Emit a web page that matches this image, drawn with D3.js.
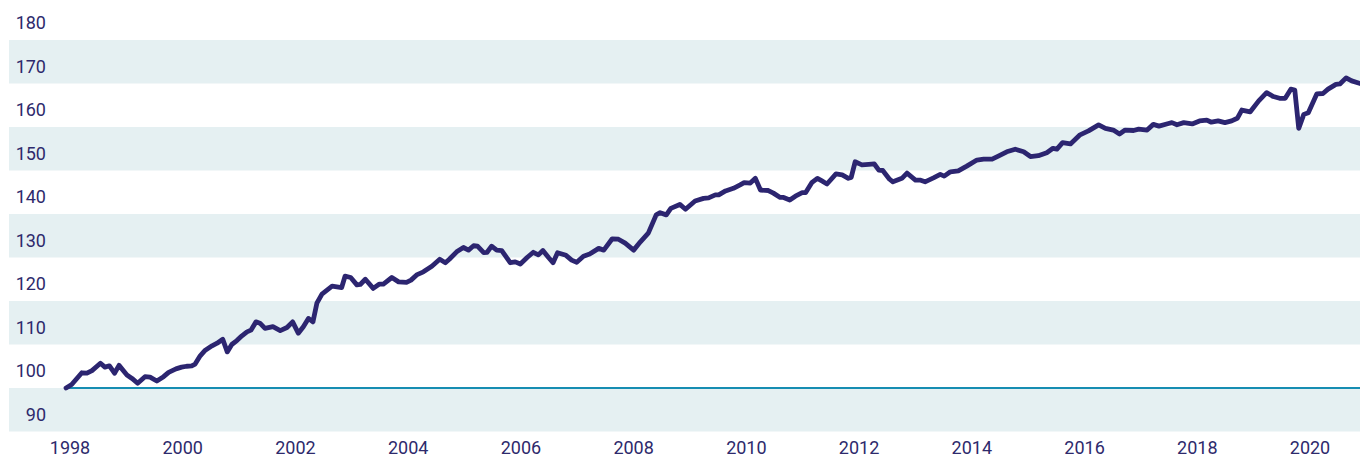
<!DOCTYPE html>
<html>
<head>
<meta charset="utf-8">
<script src="https://cdn.jsdelivr.net/npm/d3@7"></script>
<style>
  html, body { margin: 0; padding: 0; background: #fff; }
  svg text { font-family: Roboto, "Noto Sans", sans-serif; font-size: 18px; fill: #2e2a6c; }
</style>
</head>
<body>
<div id="chart"></div>
<script>
/******************************************************************************/
/*  Data                                                                      */
/******************************************************************************/

// decimal year, index value (1998 = 100)
var years = [
  1997.93, 1998.03, 1998.21, 1998.30, 1998.39, 1998.54, 1998.62, 1998.70, 1998.79, 1998.87,
  1999.01, 1999.10, 1999.20, 1999.33, 1999.42, 1999.54, 1999.66, 1999.75, 1999.88, 1999.98,
  2000.07, 2000.16, 2000.22, 2000.31, 2000.40, 2000.52, 2000.61, 2000.71, 2000.79, 2000.87,
  2000.96, 2001.05, 2001.14, 2001.21, 2001.30, 2001.37, 2001.46, 2001.60, 2001.73, 2001.85,
  2001.95, 2002.05, 2002.14, 2002.23, 2002.31, 2002.38, 2002.47, 2002.65, 2002.82, 2002.88,
  2002.98, 2003.09, 2003.15, 2003.24, 2003.38, 2003.49, 2003.56, 2003.71, 2003.83, 2003.97,
  2004.05, 2004.15, 2004.27, 2004.42, 2004.56, 2004.66, 2004.73, 2004.86, 2004.98, 2005.07,
  2005.16, 2005.23, 2005.34, 2005.40, 2005.48, 2005.57, 2005.66, 2005.81, 2005.90, 2005.99,
  2006.11, 2006.22, 2006.31, 2006.39, 2006.49, 2006.57, 2006.65, 2006.80, 2006.90, 2006.99,
  2007.11, 2007.22, 2007.38, 2007.47, 2007.62, 2007.73, 2007.85, 2008.00, 2008.12, 2008.26,
  2008.40, 2008.47, 2008.58, 2008.66, 2008.82, 2008.92, 2009.09, 2009.24, 2009.33, 2009.45,
  2009.51, 2009.63, 2009.77, 2009.89, 2009.96, 2010.07, 2010.16, 2010.25, 2010.39, 2010.48,
  2010.60, 2010.66, 2010.77, 2010.87, 2010.99, 2011.05, 2011.16, 2011.26, 2011.34, 2011.43,
  2011.59, 2011.70, 2011.81, 2011.86, 2011.93, 2012.05, 2012.17, 2012.27, 2012.35, 2012.42,
  2012.54, 2012.60, 2012.76, 2012.85, 2013.00, 2013.08, 2013.17, 2013.32, 2013.44, 2013.51,
  2013.62, 2013.76, 2013.91, 2014.09, 2014.21, 2014.36, 2014.47, 2014.62, 2014.77, 2014.92,
  2015.04, 2015.18, 2015.33, 2015.44, 2015.51, 2015.61, 2015.75, 2015.92, 2016.07, 2016.25,
  2016.37, 2016.51, 2016.62, 2016.72, 2016.87, 2016.96, 2017.11, 2017.22, 2017.32, 2017.49,
  2017.55, 2017.64, 2017.76, 2017.91, 2018.04, 2018.17, 2018.25, 2018.37, 2018.49, 2018.61,
  2018.71, 2018.79, 2018.94, 2019.09, 2019.23, 2019.35, 2019.46, 2019.56, 2019.66, 2019.73,
  2019.80, 2019.89, 2019.97, 2020.12, 2020.23, 2020.32, 2020.46, 2020.53, 2020.64, 2020.74,
  2020.89
];

var values = [
  100.0, 100.8, 103.5, 103.4, 104.0, 105.7, 104.8, 105.1, 103.4, 105.2,
  103.0, 102.2, 101.1, 102.6, 102.5, 101.6, 102.6, 103.6, 104.4, 104.8,
  105.0, 105.1, 105.5, 107.4, 108.7, 109.7, 110.3, 111.2, 108.3, 110.0,
  110.9, 112.0, 112.9, 113.3, 115.2, 114.9, 113.7, 114.1, 113.2, 113.9,
  115.2, 112.6, 114.1, 116.0, 115.2, 119.5, 121.6, 123.4, 123.1, 125.7,
  125.4, 123.7, 123.8, 125.0, 122.9, 123.9, 123.9, 125.4, 124.4, 124.3,
  124.8, 126.0, 126.7, 128.0, 129.6, 128.8, 129.6, 131.3, 132.3, 131.7,
  132.7, 132.6, 131.1, 131.2, 132.6, 131.7, 131.6, 128.8, 129.0, 128.5,
  130.0, 131.2, 130.6, 131.6, 130.0, 128.8, 131.1, 130.5, 129.4, 128.9,
  130.3, 130.8, 132.1, 131.7, 134.3, 134.2, 133.3, 131.7, 133.6, 135.6,
  139.8, 140.3, 139.8, 141.3, 142.2, 141.1, 143.0, 143.6, 143.7, 144.4,
  144.4, 145.3, 145.9, 146.7, 147.2, 147.1, 148.2, 145.5, 145.4, 144.8,
  143.8, 143.8, 143.2, 144.1, 144.9, 144.9, 147.2, 148.2, 147.6, 146.9,
  149.2, 149.0, 148.2, 148.4, 152.0, 151.3, 151.4, 151.5, 150.1, 150.0,
  148.0, 147.4, 148.2, 149.4, 147.8, 147.8, 147.4, 148.3, 149.1, 148.7,
  149.7, 149.9, 151.0, 152.4, 152.6, 152.6, 153.3, 154.3, 154.9, 154.3,
  153.2, 153.4, 154.1, 155.1, 154.9, 156.4, 156.1, 158.2, 159.1, 160.5,
  159.7, 159.3, 158.4, 159.3, 159.2, 159.5, 159.3, 160.6, 160.2, 160.8,
  161.0, 160.5, 161.0, 160.7, 161.4, 161.6, 161.1, 161.4, 161.0, 161.4,
  162.0, 163.9, 163.5, 166.0, 167.9, 167.0, 166.6, 166.6, 168.7, 168.5,
  159.7, 162.9, 163.3, 167.6, 167.7, 168.7, 169.8, 169.9, 171.3, 170.6,
  170.0
];

var yTicks    = [90, 100, 110, 120, 130, 140, 150, 160, 170, 180];
var yearTicks = [1998, 2000, 2002, 2004, 2006, 2008, 2010, 2012, 2014, 2016, 2018, 2020];
var baseValue = 100;


/******************************************************************************/
/*  Chart                                                                     */
/******************************************************************************/

var width  = 1360,
    height = 459;

var x = d3.scaleLinear().domain([1998, 2020]).range([70, 1310]);
var y = d3.scaleLinear().domain([90, 190]).range([431.5, -3.5]);

var svg = d3.select('#chart')
  .append('svg')
    .attr('width',  width)
    .attr('height', height)

// Shaded bands, every other 10 points
svg.append('g').selectAll('rect')
  .data(yTicks.filter(function(d){ return (d - 90) % 20 == 0; }))
  .enter().append('rect')
    .attr('x', 9)
    .attr('width', width - 9)
    .attr('y', function(d){ return y(d + 10); })
    .attr('height', function(d){ return y(d) - y(d + 10); })
    .attr('fill', '#e5f0f2')

// Y labels sit in the middle of their band
svg.append('g').selectAll('text')
  .data(yTicks)
  .enter().append('text')
    .attr('x', 46)
    .attr('y', function(d){ return y(d + 5) + 4.5; })
    .attr('dy', '0.35em')
    .attr('text-anchor', 'end')
    .text(function(d){ return d; })

// X labels (kept just inside the bottom edge)
svg.append('g').selectAll('text')
  .data(yearTicks)
  .enter().append('text')
    .attr('x', function(d){ return x(d); })
    .attr('y', 454)
    .attr('text-anchor', 'middle')
    .text(function(d){ return d; })

// Base line at 100
svg.append('line')
  .attr('x1', x(years[0]))
  .attr('x2', width)
  .attr('y1', y(baseValue))
  .attr('y2', y(baseValue))
  .attr('stroke', '#168db2')
  .attr('stroke-width', 2.2)

// Index line
var line = d3.line()
  .x(function(d, i){ return x(years[i]); })
  .y(function(d){ return y(d); })

svg.append('path')
  .datum(values)
  .attr('d', line)
  .attr('fill', 'none')
  .attr('stroke', '#2c2570')
  .attr('stroke-width', 4.8)
  .attr('stroke-linejoin', 'round')
  .attr('stroke-linecap', 'round')
</script>
</body>
</html>
